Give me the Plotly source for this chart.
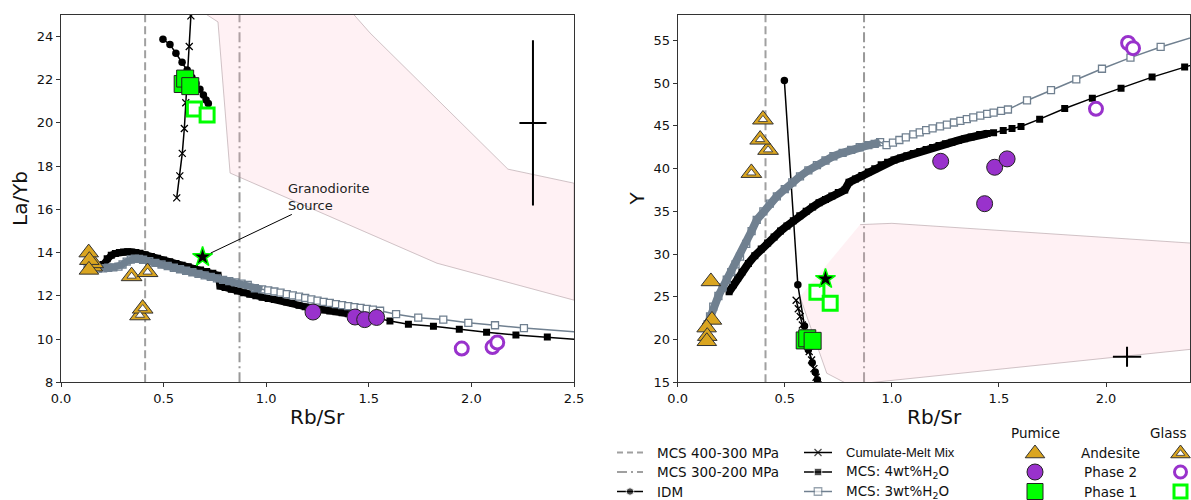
import plotly.graph_objects as go

# ---------------- DATA ----------------
# pressure boundaries (Rb/Sr)
mcs_400_300_rbsr = 0.41
mcs_300_200_rbsr = 0.87

# IDM model
idm_rbsr_l = [0.497, 0.531, 0.560, 0.590, 0.615, 0.638, 0.658, 0.677, 0.694, 0.707, 0.718]
idm_layb = [23.87, 23.63, 23.22, 22.80, 22.45, 22.10, 21.82, 21.56, 21.29, 21.06, 20.90]
idm_rbsr_r = [0.498, 0.561, 0.592, 0.610, 0.628, 0.642, 0.652, 0.660]
idm_y = [50.3, 26.4, 21.6, 18.8, 17.3, 16.2, 15.3, 14.4]

# Cumulate-melt mix
cmm_rbsr_l = [0.564, 0.579, 0.591, 0.601, 0.608, 0.617, 0.625, 0.633]
cmm_layb = [16.53, 17.55, 18.59, 19.74, 20.93, 22.20, 23.53, 24.95]
cmm_rbsr_r = [0.553, 0.563, 0.572, 0.582, 0.592, 0.603, 0.614, 0.625, 0.636, 0.646, 0.655]
cmm_y = [24.6, 23.6, 22.7, 21.7, 20.7, 19.6, 18.6, 17.6, 16.6, 15.6, 14.7]

# MCS 4 wt% H2O
mcs4_rbsr_l = [0.205, 0.225, 0.245, 0.265, 0.285, 0.305, 0.325, 0.345, 0.365, 0.385,
               0.41, 0.44, 0.47, 0.50, 0.53, 0.56, 0.59, 0.62, 0.65, 0.68,
               0.71, 0.74, 0.765, 0.775, 0.80, 0.83, 0.86, 0.89, 0.92, 0.95,
               0.98, 1.01, 1.04, 1.07, 1.10, 1.13, 1.16, 1.19, 1.22, 1.25,
               1.28, 1.31, 1.34, 1.37, 1.40, 1.43, 1.46, 1.49, 1.52, 1.555,
               1.603, 1.693, 1.815, 1.941, 2.074, 2.217, 2.37, 2.60]
mcs4_layb = [13.45, 13.72, 13.88, 13.96, 14.00, 14.03, 14.04, 14.03, 14.01, 13.97,
             13.90, 13.82, 13.74, 13.66, 13.58, 13.50, 13.42, 13.35, 13.27, 13.20,
             13.12, 13.04, 12.95, 12.45, 12.38, 12.30, 12.22, 12.14, 12.07, 12.00,
             11.94, 11.88, 11.83, 11.78, 11.72, 11.66, 11.56, 11.49, 11.43, 11.38,
             11.34, 11.30, 11.26, 11.22, 11.17, 11.12, 11.07, 11.03, 10.99, 10.94,
             10.84, 10.69, 10.59, 10.45, 10.31, 10.19, 10.10, 9.92]
mcs4_rbsr_r = [0.24, 0.26, 0.28, 0.30, 0.33, 0.36, 0.39, 0.42, 0.45, 0.48,
               0.51, 0.54, 0.57, 0.60, 0.63, 0.66, 0.69, 0.72, 0.75, 0.78,
               0.80, 0.83, 0.86, 0.89, 0.92, 0.95, 0.98, 1.01, 1.04, 1.07,
               1.10, 1.13, 1.16, 1.19, 1.22, 1.25, 1.28, 1.31, 1.34, 1.37,
               1.41, 1.445, 1.475, 1.52, 1.561, 1.603, 1.69, 1.807, 1.936, 2.07,
               2.215, 2.367, 2.55]
mcs4_y = [25.6, 26.4, 27.2, 27.9, 28.9, 29.8, 30.6, 31.3, 32.0, 32.7,
          33.3, 33.9, 34.5, 35.0, 35.5, 36.0, 36.4, 36.8, 37.2, 37.5,
          38.4, 38.8, 39.2, 39.6, 40.0, 40.45, 40.75, 41.0, 41.25, 41.5,
          41.77, 42.0, 42.25, 42.48, 42.7, 42.9, 43.1, 43.3, 43.5, 43.7,
          44.0, 44.1, 44.2, 44.46, 44.70, 44.93, 45.79, 47.04, 48.25, 49.42,
          50.71, 51.88, 53.3]

# MCS 3 wt% H2O
mcs3_rbsr_l = [0.13, 0.155, 0.18, 0.205, 0.23, 0.255, 0.28, 0.30, 0.32, 0.34,
               0.36, 0.38, 0.40, 0.43, 0.46, 0.49, 0.52, 0.55, 0.58, 0.61,
               0.64, 0.67, 0.70, 0.73, 0.76, 0.79, 0.82, 0.85, 0.88, 0.91,
               0.945, 0.98, 1.01, 1.04, 1.07, 1.10, 1.13, 1.16, 1.19, 1.22,
               1.25, 1.28, 1.31, 1.34, 1.37, 1.40, 1.43, 1.46, 1.49, 1.52,
               1.555, 1.633, 1.741, 1.863, 1.985, 2.115, 2.256, 2.60]
mcs3_layb = [13.30, 13.28, 13.26, 13.27, 13.30, 13.32, 13.35, 13.45, 13.58, 13.68,
             13.72, 13.71, 13.67, 13.60, 13.52, 13.45, 13.38, 13.30, 13.23, 13.16,
             13.09, 13.02, 12.95, 12.88, 12.81, 12.74, 12.68, 12.62, 12.56, 12.50,
             12.35, 12.30, 12.25, 12.20, 12.15, 12.08, 12.02, 11.96, 11.90, 11.84,
             11.78, 11.72, 11.67, 11.62, 11.57, 11.52, 11.48, 11.44, 11.40, 11.36,
             11.31, 11.15, 10.99, 10.90, 10.75, 10.64, 10.51, 10.26]
mcs3_rbsr_r = [0.14, 0.151, 0.166, 0.19, 0.21, 0.229, 0.25, 0.27, 0.291, 0.32,
               0.345, 0.369, 0.40, 0.43, 0.463, 0.50, 0.535, 0.571, 0.61, 0.65,
               0.69, 0.727, 0.77, 0.81, 0.85, 0.89, 0.92, 0.945, 0.975, 1.005,
               1.035, 1.065, 1.10, 1.13, 1.16, 1.19, 1.225, 1.257, 1.29, 1.32,
               1.35, 1.38, 1.413, 1.445, 1.475, 1.51, 1.542, 1.631, 1.743, 1.861,
               1.981, 2.114, 2.255, 2.55]
mcs3_y = [21.8, 22.7, 23.86, 25.1, 26.1, 27.0, 27.9, 28.8, 29.7, 31.2,
          32.7, 34.0, 35.0, 35.9, 36.76, 37.6, 38.4, 39.1, 39.8, 40.4,
          40.95, 41.45, 41.85, 42.2, 42.5, 42.75, 42.9, 43.1, 42.75, 43.05,
          43.35, 43.65, 44.0, 44.25, 44.5, 44.7, 44.95, 45.16, 45.4, 45.6,
          45.8, 46.0, 46.2, 46.4, 46.55, 46.75, 46.92, 47.98, 49.19, 50.44,
          51.69, 52.99, 54.24, 56.5]

# shaded fields
field_rbsr_l = [0.711, 0.765, 0.824, 1.832, 2.5, 2.5, 2.178, 1.506, 1.428]
field_layb = [25.0, 24.67, 17.68, 13.51, 11.8, 17.21, 17.86, 24.16, 25.0]
field_rbsr_r = [0.852, 1.0, 2.45, 2.45, 0.80, 0.696, 0.571]
field_y = [33.45, 33.6, 31.2, 19.0, 14.7, 16.06, 25.0]

# samples
andesite_pumice_rbsr = [0.155, 0.160, 0.135, 0.138, 0.136]
andesite_pumice_layb = [13.35, 13.50, 14.00, 13.65, 13.20]
andesite_pumice_y = [26.8, 22.3, 21.4, 20.4, 19.8]

andesite_glass_rbsr = [0.344, 0.422, 0.385, 0.398]
andesite_glass_layb = [12.91, 13.10, 11.10, 11.41]
andesite_glass_y = [39.5, 42.2, 43.4, 45.75]

phase2_pumice_rbsr = [1.228, 1.433, 1.48, 1.538]
phase2_pumice_layb = [11.25, 11.02, 10.90, 11.00]
phase2_pumice_y = [40.86, 35.9, 40.16, 41.14]

phase2_glass_rbsr = [1.953, 2.103, 2.126]
phase2_glass_layb = [9.56, 9.63, 9.84]
phase2_glass_y = [47.0, 54.7, 54.1]

phase1_pumice_rbsr = [0.593, 0.605, 0.630]
phase1_pumice_layb = [21.80, 22.05, 21.70]
phase1_pumice_y = [19.9, 20.15, 19.85]

phase1_glass_rbsr = [0.650, 0.712]
phase1_glass_layb = [20.64, 20.36]
phase1_glass_y = [25.55, 24.26]

grano_rbsr = [0.69]
grano_layb = [13.8]
grano_y = [27.1]

# analytical uncertainty crosses
err_rbsr_l, err_layb, err_dx_l, err_dlayb = [2.30], [20.0], [0.066], [3.82]
err_rbsr_r, err_y, err_dx_r, err_dy = [2.098], [18.0], [0.066], [1.17]

# ---------------- STYLE ----------------
W, H = 1191, 500
FONT = "DejaVu Sans"
GOLD = "#DAA520"
PURPLE = "#9932CC"
LIME = "#00FF00"
SLATE = "#708090"
VGRAY = "#a0a0a0"

fig = go.Figure()


def add(tr, ax):
    xa, ya = {1: ("x", "y"), 2: ("x2", "y2"), 3: ("x3", "y3")}[ax]
    tr.update(xaxis=xa, yaxis=ya, showlegend=False, hoverinfo="skip")
    fig.add_trace(tr)


def dense_part(xs, ys, limit):
    pts = [(a, b) for a, b in zip(xs, ys) if a <= limit]
    return [p[0] for p in pts], [p[1] for p in pts]


panels = [
    dict(ax=1, fx=field_rbsr_l, fy=field_layb, ix=idm_rbsr_l, iy=idm_layb,
         cx=cmm_rbsr_l, cy=cmm_layb, m4x=mcs4_rbsr_l, m4y=mcs4_layb,
         m3x=mcs3_rbsr_l, m3y=mcs3_layb, ap=andesite_pumice_layb, ag=andesite_glass_layb,
         p2p=phase2_pumice_layb, p2g=phase2_glass_layb, p1p=phase1_pumice_layb,
         p1g=phase1_glass_layb, gr=grano_layb, ex=err_rbsr_l, ey=err_layb,
         edx=err_dx_l, edy=err_dlayb, lim4=1.56, lim3=1.0, band=7),
    dict(ax=2, fx=field_rbsr_r, fy=field_y, ix=idm_rbsr_r, iy=idm_y,
         cx=cmm_rbsr_r, cy=cmm_y, m4x=mcs4_rbsr_r, m4y=mcs4_y,
         m3x=mcs3_rbsr_r, m3y=mcs3_y, ap=andesite_pumice_y, ag=andesite_glass_y,
         p2p=phase2_pumice_y, p2g=phase2_glass_y, p1p=phase1_pumice_y,
         p1g=phase1_glass_y, gr=grano_y, ex=err_rbsr_r, ey=err_y,
         edx=err_dx_r, edy=err_dy, lim4=1.45, lim3=0.95, band=8),
]

for p in panels:
    ax = p["ax"]
    assert len(p["m4x"]) == len(p["m4y"]) and len(p["m3x"]) == len(p["m3y"])
    add(go.Scatter(x=p["fx"], y=p["fy"], mode="lines", fill="toself",
                   fillcolor="rgba(255,192,203,0.22)",
                   line=dict(color="rgba(170,150,155,0.55)", width=1)), ax)
    add(go.Scatter(x=p["cx"], y=p["cy"], mode="lines+markers",
                   line=dict(color="black", width=1.5),
                   marker=dict(symbol="x-thin", size=7, line=dict(color="black", width=1.3))), ax)
    add(go.Scatter(x=p["ix"], y=p["iy"], mode="lines+markers",
                   line=dict(color="black", width=1.5),
                   marker=dict(symbol="circle", size=7.5, color="black")), ax)
    # MCS 4 wt%: densely stacked markers form a solid band
    bx, by = dense_part(p["m4x"], p["m4y"], p["lim4"])
    add(go.Scatter(x=bx, y=by, mode="lines",
                   line=dict(color="black", width=p["band"])), ax)
    add(go.Scatter(x=p["m4x"], y=p["m4y"], mode="lines+markers",
                   line=dict(color="black", width=1.5),
                   marker=dict(symbol="square", size=7, color="black")), ax)
    # MCS 3 wt%
    bx, by = dense_part(p["m3x"], p["m3y"], p["lim3"])
    add(go.Scatter(x=bx, y=by, mode="lines",
                   line=dict(color=SLATE, width=p["band"])), ax)
    fills = ["rgba(0,0,0,0)" if v <= p["lim3"] else "white" for v in p["m3x"]]
    add(go.Scatter(x=p["m3x"], y=p["m3y"], mode="lines+markers",
                   line=dict(color=SLATE, width=1.5),
                   marker=dict(symbol="square", size=7, color=fills,
                               line=dict(color=SLATE, width=1.3))), ax)
    add(go.Scatter(x=p["ex"], y=p["ey"], mode="markers",
                   marker=dict(size=2, color="rgba(0,0,0,0)"),
                   error_x=dict(type="data", array=p["edx"], width=0, thickness=2, color="black"),
                   error_y=dict(type="data", array=p["edy"], width=0, thickness=2, color="black")), ax)
    # samples
    add(go.Scatter(x=andesite_pumice_rbsr, y=p["ap"], mode="markers",
                   marker=dict(symbol="triangle-up", size=17, color=GOLD,
                               line=dict(color="#333", width=1))), ax)
    add(go.Scatter(x=andesite_glass_rbsr, y=p["ag"], mode="markers",
                   marker=dict(symbol="triangle-up", size=18, color=GOLD,
                               line=dict(color="#333", width=1))), ax)
    add(go.Scatter(x=andesite_glass_rbsr, y=p["ag"], mode="markers",
                   marker=dict(symbol="triangle-up", size=8, color="white",
                               line=dict(color="#333", width=0.8))), ax)
    add(go.Scatter(x=phase2_pumice_rbsr, y=p["p2p"], mode="markers",
                   marker=dict(symbol="circle", size=16, color=PURPLE,
                               line=dict(color="#222", width=1))), ax)
    add(go.Scatter(x=phase2_glass_rbsr, y=p["p2g"], mode="markers",
                   marker=dict(symbol="circle", size=13, color="white",
                               line=dict(color=PURPLE, width=3))), ax)
    add(go.Scatter(x=phase1_pumice_rbsr, y=p["p1p"], mode="markers",
                   marker=dict(symbol="square", size=17, color=LIME,
                               line=dict(color="#222", width=1))), ax)
    add(go.Scatter(x=phase1_glass_rbsr, y=p["p1g"], mode="markers",
                   marker=dict(symbol="square", size=14, color="white",
                               line=dict(color=LIME, width=3))), ax)
    add(go.Scatter(x=grano_rbsr, y=p["gr"], mode="markers",
                   marker=dict(symbol="star", size=15, color="black",
                               line=dict(color=LIME, width=1.5))), ax)

# pressure boundary lines
for xr, yr in (("x", "y"), ("x2", "y2")):
    fig.add_shape(type="line", xref=xr, yref=yr + " domain", x0=mcs_400_300_rbsr,
                  x1=mcs_400_300_rbsr, y0=0, y1=1, layer="below",
                  line=dict(color=VGRAY, width=2, dash="8px,4px"))
    fig.add_shape(type="line", xref=xr, yref=yr + " domain", x0=mcs_300_200_rbsr,
                  x1=mcs_300_200_rbsr, y0=0, y1=1, layer="below",
                  line=dict(color="#999999", width=2, dash="10px,4px,2px,4px"))

fig.add_annotation(x=grano_rbsr[0], y=grano_layb[0], xref="x", yref="y",
                   text="Granodiorite<br>Source", showarrow=True, arrowhead=0,
                   arrowwidth=1, arrowcolor="black", ax=126, ay=-60, standoff=9,
                   align="left", font=dict(family=FONT, size=13, color="#222"))

# ---------------- AXIS TITLES + LEGEND (hidden pixel-scaled axis) ----------------
title_font = dict(family=FONT, size=20, color="#111")
for tx, ty, txt, ang in ((317.5, 417, "Rb/Sr", 0), (934, 417, "Rb/Sr", 0),
                         (19.5, 198.5, "La/Yb", -90), (636, 198.5, "Y", -90)):
    fig.add_annotation(x=tx, y=ty, xref="x3", yref="y3", text=txt, showarrow=False,
                       textangle=ang, xanchor="center", yanchor="middle", font=title_font)

rows = [452.5, 472, 491.5]
c1 = (617, 643, 655)
c2 = (804, 832, 844)
pum_x, lab_x, gla_x, head_y = 1035, 1110, 1180.5, 433

add(go.Scatter(x=[c1[0], c1[1]], y=[rows[0]] * 2, mode="lines",
               line=dict(color=VGRAY, width=2, dash="6px,4px")), 3)
add(go.Scatter(x=[c1[0], c1[1]], y=[rows[1]] * 2, mode="lines",
               line=dict(color=VGRAY, width=2, dash="10px,4px,2px,4px")), 3)
add(go.Scatter(x=[c1[0], (c1[0] + c1[1]) / 2, c1[1]], y=[rows[2]] * 3, mode="lines+markers",
               line=dict(color="black", width=1.5),
               marker=dict(size=[0, 7.5, 0], color="black")), 3)
add(go.Scatter(x=[c2[0], (c2[0] + c2[1]) / 2, c2[1]], y=[rows[0]] * 3, mode="lines+markers",
               line=dict(color="black", width=1.5),
               marker=dict(symbol="x-thin", size=[0, 7, 0], line=dict(color="black", width=1.3))), 3)
add(go.Scatter(x=[c2[0], (c2[0] + c2[1]) / 2, c2[1]], y=[rows[1]] * 3, mode="lines+markers",
               line=dict(color="black", width=1.5),
               marker=dict(symbol="square", size=[0, 7.5, 0], color="black")), 3)
add(go.Scatter(x=[c2[0], (c2[0] + c2[1]) / 2, c2[1]], y=[rows[2]] * 3, mode="lines+markers",
               line=dict(color=SLATE, width=1.5),
               marker=dict(symbol="square", size=[0, 7.5, 0], color="white",
                           line=dict(color=SLATE, width=1.3))), 3)
# pumice column
add(go.Scatter(x=[pum_x], y=[rows[0] + 1], mode="markers",
               marker=dict(symbol="triangle-up", size=17, color=GOLD, line=dict(color="#333", width=1))), 3)
add(go.Scatter(x=[pum_x], y=[rows[1]], mode="markers",
               marker=dict(symbol="circle", size=16, color=PURPLE, line=dict(color="#222", width=1))), 3)
add(go.Scatter(x=[pum_x], y=[rows[2]], mode="markers",
               marker=dict(symbol="square", size=16, color=LIME, line=dict(color="#222", width=1))), 3)
# glass column
add(go.Scatter(x=[gla_x], y=[rows[0] + 1], mode="markers",
               marker=dict(symbol="triangle-up", size=17, color=GOLD, line=dict(color="#333", width=1))), 3)
add(go.Scatter(x=[gla_x], y=[rows[0] + 1], mode="markers",
               marker=dict(symbol="triangle-up", size=7.5, color="white", line=dict(color="#333", width=0.8))), 3)
add(go.Scatter(x=[gla_x], y=[rows[1]], mode="markers",
               marker=dict(symbol="circle", size=12, color="white", line=dict(color=PURPLE, width=3))), 3)
add(go.Scatter(x=[gla_x], y=[rows[2]], mode="markers",
               marker=dict(symbol="square", size=13, color="white", line=dict(color=LIME, width=3))), 3)

leg_texts = [
    (c1[2], rows[0], "MCS 400-300 MPa", "left", FONT),
    (c1[2], rows[1], "MCS 300-200 MPa", "left", FONT),
    (c1[2], rows[2], "IDM", "left", FONT),
    (c2[2], rows[0], "Cumulate-Melt Mix", "left", "Liberation Sans"),
    (c2[2], rows[1], "MCS: 4wt%H<sub>2</sub>O", "left", FONT),
    (c2[2], rows[2], "MCS: 3wt%H<sub>2</sub>O", "left", FONT),
    (pum_x, head_y, "Pumice", "center", FONT),
    (1189, head_y, "Glass", "right", FONT),
    (lab_x, rows[0], "Andesite", "center", FONT),
    (lab_x, rows[1], "Phase 2", "center", FONT),
    (lab_x, rows[2], "Phase 1", "center", FONT),
]
for tx, ty, txt, anch, fam in leg_texts:
    fig.add_annotation(x=tx, y=ty, xref="x3", yref="y3", text=txt, showarrow=False,
                       xanchor=anch, yanchor="middle",
                       font=dict(family=fam, size=13.5 if fam == FONT else 13, color="#111"))

# ---------------- LAYOUT ----------------
axis_common = dict(showgrid=False, zeroline=False, showline=True, mirror=True,
                   linecolor="#333", linewidth=1.2, ticks="outside", ticklen=4,
                   tickwidth=1, tickcolor="#333", automargin=False,
                   tickfont=dict(family=FONT, size=13, color="#111"))
ydom = [1 - 382.3 / H, 1 - 14.8 / H]

fig.update_layout(
    width=W, height=H, margin=dict(l=0, r=0, t=0, b=0, autoexpand=False),
    paper_bgcolor="white", plot_bgcolor="rgba(0,0,0,0)", showlegend=False,
    font=dict(family=FONT, size=13, color="#111"),
    xaxis=dict(domain=[61 / W, 574 / W], range=[0, 2.5], tick0=0, dtick=0.5,
               tickformat=".1f", anchor="y", **axis_common),
    yaxis=dict(domain=ydom, range=[8, 25], tick0=8, dtick=2, anchor="x", **axis_common),
    xaxis2=dict(domain=[677.7 / W, 1190 / W], range=[0, 2.392], tick0=0, dtick=0.5,
                tickformat=".1f", anchor="y2", **axis_common),
    yaxis2=dict(domain=ydom, range=[15, 58], tick0=15, dtick=5, anchor="x2", **axis_common),
    xaxis3=dict(domain=[0, 1], range=[0, W], visible=False, anchor="y3", fixedrange=True),
    yaxis3=dict(domain=[0, 1], range=[H, 0], visible=False, anchor="x3", fixedrange=True),
)

# remove the browser's default 8px page margin so the 1191x500 figure fills the window
fig.write_html("out.html", config={"displayModeBar": False},
               post_script="document.body.style.margin='0';document.body.style.overflow='hidden';")
